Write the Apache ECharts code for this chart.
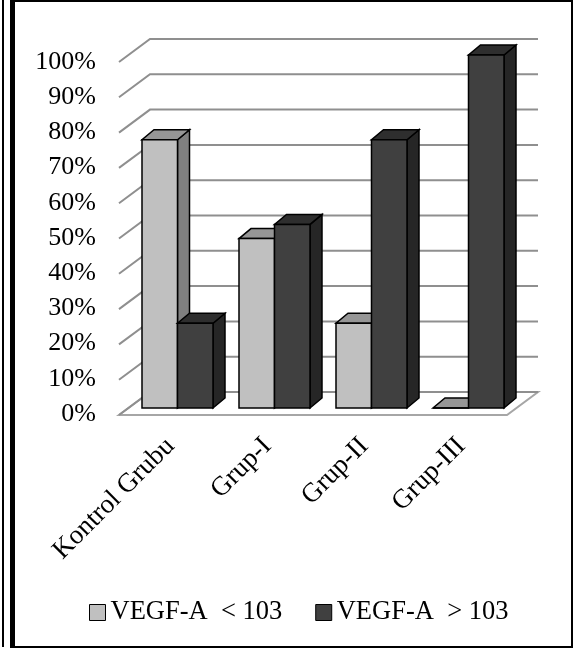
<!DOCTYPE html>
<html>
<head>
<meta charset="utf-8">
<script src="https://cdn.jsdelivr.net/npm/echarts@6/dist/echarts.min.js"></script>
<style>
  html, body { margin: 0; padding: 0; background: #fff; }
  #chart { width: 574px; height: 648px; }
</style>
</head>
<body>
<div id="chart"></div>
<script>
// Groups on the category axis
const categories = ['Kontrol Grubu', 'Grup-I', 'Grup-II', 'Grup-III'];
// Share of each group (%) by VEGF-A level
const seriesNames = ['VEGF-A  < 103', 'VEGF-A  > 103'];
const belowValues = [76, 48, 24, 0];
const aboveValues = [24, 52, 76, 100];
// Value-axis ticks (%)
const yTicks = [0, 10, 20, 30, 40, 50, 60, 70, 80, 90, 100];

const FONT = 'Liberation Serif';
// Pseudo-3D offsets (px) of the bar plane relative to the wall and floor
const DEPTH_DX = 12, DEPTH_DY = -10;      // bar depth
const BACK_DX = 21, BACK_DY = -16;        // back wall relative to bar plane
const FRONT_DX = -10, FRONT_DY = 7;       // front edge relative to bar plane
const BAR_FRAC = 0.366;                   // bar width as share of category band

const palettes = [
  { front: '#c0c0c0', top: '#969696', side: '#808080' },
  { front: '#404040', top: '#2e2e2e', side: '#262626' }
];

function barRenderer(slot) {
  const pal = palettes[slot];
  return function (params, api) {
    const cat = api.value(0);
    const val = api.value(1);
    const band = api.size([1, 0])[0];
    const w = band * BAR_FRAC;
    const base = api.coord([cat, 0]);
    const topPt = api.coord([cat, val]);
    const x0 = base[0] - w + slot * w;
    const x1 = x0 + w;
    const yb = base[1];
    const yt = topPt[1];
    const stroke = { stroke: '#000', lineWidth: 1.5, lineJoin: 'miter' };
    return {
      type: 'group',
      children: [
        {
          type: 'polygon',
          shape: { points: [[x1, yt], [x1 + DEPTH_DX, yt + DEPTH_DY], [x1 + DEPTH_DX, yb + DEPTH_DY], [x1, yb]] },
          style: Object.assign({ fill: pal.side }, stroke)
        },
        {
          type: 'polygon',
          shape: { points: [[x0, yt], [x1, yt], [x1 + DEPTH_DX, yt + DEPTH_DY], [x0 + DEPTH_DX, yt + DEPTH_DY]] },
          style: Object.assign({ fill: pal.top }, stroke)
        },
        {
          type: 'rect',
          shape: { x: x0, y: yt, width: w, height: yb - yt },
          style: Object.assign({ fill: pal.front }, stroke)
        }
      ]
    };
  };
}

function floorRenderer(params, api) {
  const cs = params.coordSys;
  const y0 = api.coord([0, 0])[1];
  const right = cs.x + cs.width;
  return {
    type: 'polygon',
    shape: {
      points: [
        [cs.x + FRONT_DX, y0 + FRONT_DY],
        [right + FRONT_DX, y0 + FRONT_DY],
        [right + BACK_DX, y0 + BACK_DY],
        [cs.x + BACK_DX, y0 + BACK_DY]
      ]
    },
    style: { fill: '#fff', stroke: '#a6a6a6', lineWidth: 2 }
  };
}

function gridLineRenderer(params, api) {
  const cs = params.coordSys;
  const y = api.coord([0, api.value(1)])[1];
  return {
    type: 'polyline',
    shape: {
      points: [
        [cs.x + FRONT_DX, y + FRONT_DY],
        [cs.x + BACK_DX, y + BACK_DY],
        [cs.x + cs.width + BACK_DX, y + BACK_DY]
      ]
    },
    style: { fill: null, stroke: '#8f8f8f', lineWidth: 2 }
  };
}

const chart = echarts.init(document.getElementById('chart'), null, { renderer: 'canvas' });

chart.setOption({
  animation: false,
  backgroundColor: '#fff',
  grid: [
    // bar plane
    { left: 129, top: 55, width: 388, height: 353 },
    // front edge, carries the percentage labels
    { left: 119, top: 62, width: 389, height: 352 }
  ],
  xAxis: [
    {
      type: 'category', gridIndex: 0, data: categories,
      axisLine: { show: false }, axisTick: { show: false },
      axisLabel: { rotate: 45, interval: 0, margin: 27, padding: [0, 10, 0, 0], fontSize: 27, fontFamily: FONT, color: '#000' }
    },
    { type: 'category', gridIndex: 1, data: categories, show: false }
  ],
  yAxis: [
    { type: 'value', gridIndex: 0, min: 0, max: 100, interval: 10, show: false, splitLine: { show: false } },
    {
      type: 'value', gridIndex: 1, min: 0, max: 100, interval: 10,
      axisLine: { show: false }, axisTick: { show: false }, splitLine: { show: false },
      axisLabel: { formatter: '{value}%', margin: 23, fontSize: 26, fontFamily: FONT, color: '#000' }
    }
  ],
  legend: {
    left: 89, top: 599, padding: 0,
    icon: 'rect', itemWidth: 16, itemHeight: 16, itemGap: 33,
    textStyle: { fontSize: 26.5, fontFamily: FONT, color: '#000' },
    data: [
      { name: seriesNames[0], itemStyle: { color: palettes[0].front, borderColor: '#000', borderWidth: 1 } },
      { name: seriesNames[1], itemStyle: { color: palettes[1].front, borderColor: '#000', borderWidth: 1 } }
    ]
  },
  series: [
    {
      type: 'custom', name: 'floor', xAxisIndex: 0, yAxisIndex: 0, clip: false, silent: true,
      renderItem: floorRenderer, data: [[0, 0]]
    },
    {
      type: 'custom', name: 'gridlines', xAxisIndex: 0, yAxisIndex: 0, clip: false, silent: true,
      renderItem: gridLineRenderer, data: yTicks.map(v => [0, v])
    },
    {
      type: 'custom', name: seriesNames[0], xAxisIndex: 0, yAxisIndex: 0, clip: false,
      itemStyle: { color: palettes[0].front },
      renderItem: barRenderer(0), data: belowValues.map((v, i) => [i, v])
    },
    {
      type: 'custom', name: seriesNames[1], xAxisIndex: 0, yAxisIndex: 0, clip: false,
      itemStyle: { color: palettes[1].front },
      renderItem: barRenderer(1), data: aboveValues.map((v, i) => [i, v])
    }
  ],
  graphic: [
    // outer frame
    { type: 'rect', shape: { x: 13, y: 1, width: 559, height: 646 }, style: { fill: null, stroke: '#000', lineWidth: 2 }, silent: true },
    { type: 'rect', shape: { x: 10, y: 0, width: 5, height: 648 }, style: { fill: '#000' }, silent: true },
    { type: 'rect', shape: { x: 2, y: 0, width: 2, height: 647 }, style: { fill: '#000' }, silent: true }
  ]
});
</script>
</body>
</html>
